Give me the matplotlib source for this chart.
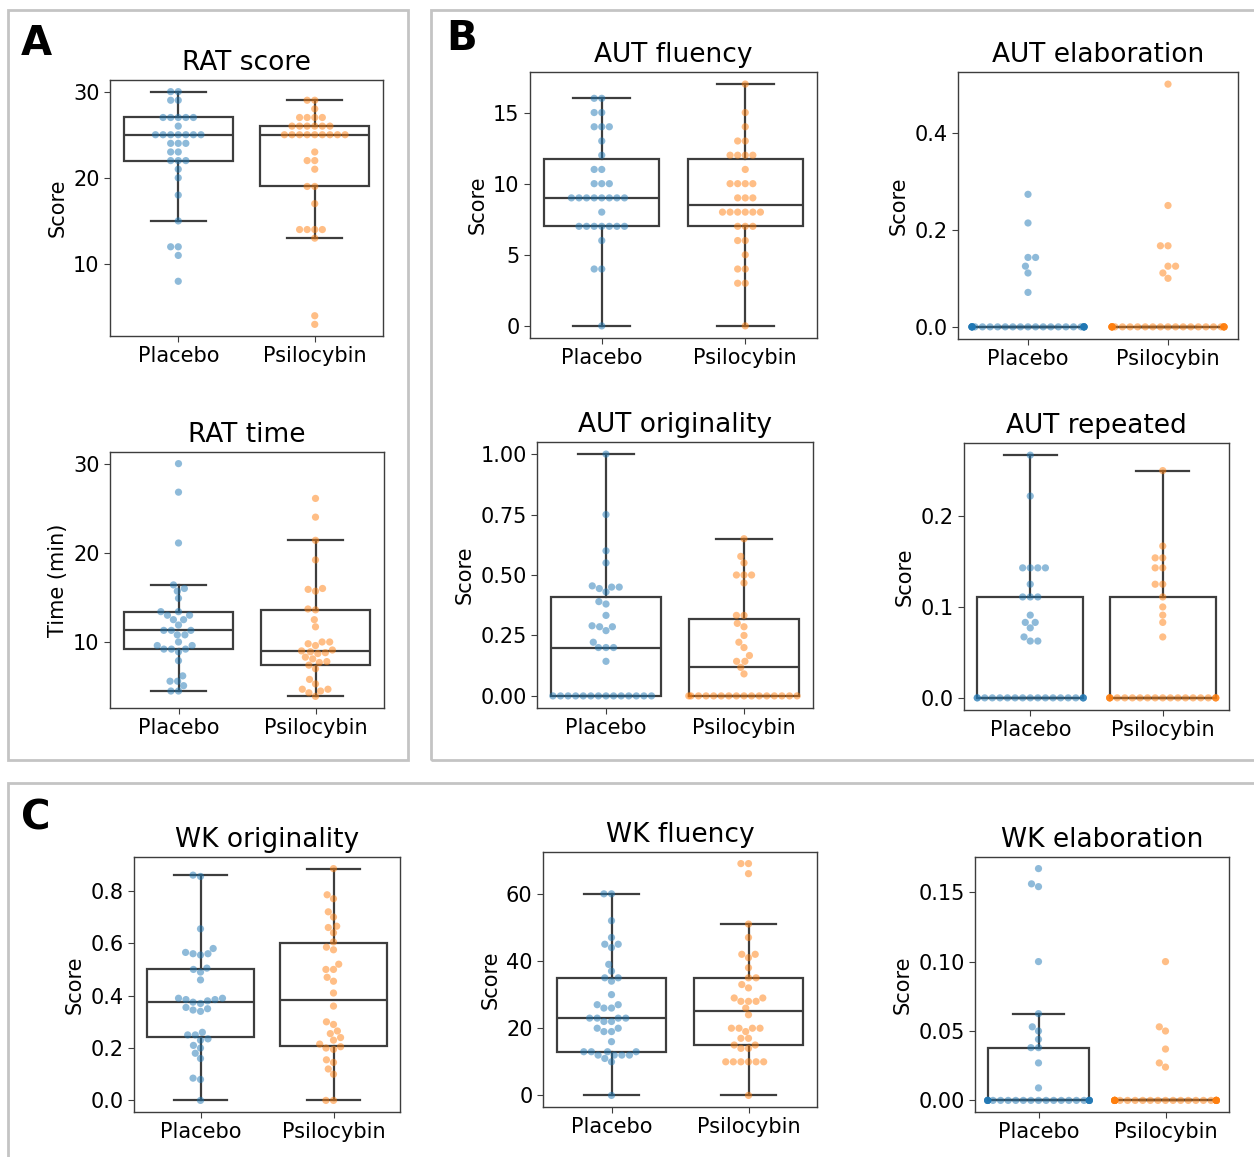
import warnings
warnings.filterwarnings("ignore")

import matplotlib
matplotlib.use('Agg')

import numpy as np
import pandas as pd
import matplotlib.pyplot as plt
import seaborn as sns
from matplotlib.patches import Rectangle


# ===============================
# Data
# ===============================

groups = ["Placebo", "Psilocybin"]
colors = ["#1f77b4", "#ff7f0e"]

rat_score_placebo = [30, 30, 29, 29, 27, 27, 27, 27, 27, 26, 25, 25, 25, 25, 25, 25, 25,
                     24, 24, 24, 23, 23, 22, 22, 22, 21, 20, 18, 15, 12, 12, 11, 8]
rat_score_psilocybin = [29, 29, 28, 27, 27, 27, 27, 26, 26, 26, 26, 26, 26, 25, 25, 25, 25,
                        25, 25, 25, 25, 25, 23, 22, 22, 21, 19, 19, 17, 14, 14, 14, 14, 13, 4, 3]

rat_time_placebo = [30.0, 26.8, 21.1, 16.4, 16.0, 15.7, 14.9, 13.4, 13.4, 13.0, 13.0, 12.5,
                    12.5, 11.9, 11.3, 11.3, 11.3, 10.8, 10.8, 10.0, 9.6, 9.6, 9.2, 9.2, 9.2,
                    8.9, 7.9, 6.2, 5.6, 5.6, 5.1, 4.5, 4.5]
rat_time_psilocybin = [26.1, 24.0, 21.4, 19.2, 16.0, 15.9, 15.7, 13.7, 13.6, 12.5, 11.7, 10.0,
                       10.0, 9.8, 9.6, 9.1, 9.0, 8.9, 8.8, 8.7, 8.3, 8.1, 7.8, 7.7, 7.4, 7.0,
                       5.8, 5.3, 4.7, 4.7, 4.5, 4.3, 3.9]

aut_fluency_placebo = [16, 16, 15, 15, 14, 14, 14, 13, 12, 11, 11, 10, 10, 10, 9, 9, 9, 9, 9,
                       9, 9, 9, 8, 7, 7, 7, 7, 7, 7, 7, 6, 4, 4, 0]
aut_fluency_psilocybin = [17, 15, 14, 13, 13, 12, 12, 12, 12, 11, 10, 10, 10, 10, 9, 9, 9, 8,
                          8, 8, 8, 8, 8, 7, 7, 7, 6, 6, 5, 4, 4, 3, 3, 0]

aut_elaboration_placebo = [0.273, 0.214, 0.143, 0.143, 0.125, 0.111, 0.071,
                           0, 0, 0, 0, 0, 0, 0, 0, 0, 0, 0, 0, 0, 0, 0, 0, 0, 0, 0, 0,
                           0, 0, 0, 0, 0, 0, 0]
aut_elaboration_psilocybin = [0.5, 0.25, 0.167, 0.167, 0.125, 0.125, 0.111, 0.1,
                              0, 0, 0, 0, 0, 0, 0, 0, 0, 0, 0, 0, 0, 0, 0, 0, 0, 0, 0, 0,
                              0, 0, 0, 0, 0, 0]

aut_originality_placebo = [1.0, 0.75, 0.6, 0.55, 0.455, 0.45, 0.45, 0.444, 0.43, 0.39, 0.38,
                           0.333, 0.29, 0.286, 0.286, 0.27, 0.222, 0.2, 0.2, 0.2, 0.143,
                           0, 0, 0, 0, 0, 0, 0, 0, 0, 0, 0, 0, 0, 0]
aut_originality_psilocybin = [0.65, 0.577, 0.55, 0.5, 0.5, 0.5, 0.467, 0.333, 0.333, 0.3,
                              0.286, 0.25, 0.222, 0.2, 0.167, 0.143, 0.143, 0.118, 0.091,
                              0, 0, 0, 0, 0, 0, 0, 0, 0, 0, 0, 0, 0, 0, 0, 0]

aut_repeated_placebo = [0.267, 0.222, 0.143, 0.143, 0.143, 0.143, 0.125, 0.111, 0.111, 0.111,
                        0.091, 0.083, 0.083, 0.077, 0.067, 0.0625, 0.0625,
                        0, 0, 0, 0, 0, 0, 0, 0, 0, 0, 0, 0, 0, 0, 0, 0, 0, 0]
aut_repeated_psilocybin = [0.25, 0.167, 0.154, 0.154, 0.143, 0.143, 0.125, 0.125, 0.111, 0.1,
                           0.091, 0.083, 0.067,
                           0, 0, 0, 0, 0, 0, 0, 0, 0, 0, 0, 0, 0, 0, 0, 0, 0, 0, 0, 0]

wk_originality_placebo = [0.86, 0.855, 0.655, 0.58, 0.565, 0.56, 0.56, 0.555, 0.505, 0.5,
                          0.49, 0.46, 0.39, 0.39, 0.385, 0.385, 0.38, 0.375, 0.37, 0.355,
                          0.35, 0.345, 0.34, 0.26, 0.25, 0.25, 0.235, 0.23, 0.21, 0.2,
                          0.18, 0.16, 0.085, 0.08, 0.0]
wk_originality_psilocybin = [0.885, 0.785, 0.77, 0.72, 0.7, 0.665, 0.66, 0.64, 0.605, 0.585,
                             0.575, 0.52, 0.5, 0.5, 0.47, 0.455, 0.41, 0.36, 0.3, 0.29,
                             0.265, 0.255, 0.24, 0.23, 0.215, 0.205, 0.2, 0.195, 0.155,
                             0.145, 0.12, 0.1, 0.0, 0.0]

wk_fluency_placebo = [60, 60, 52, 47, 45, 45, 44, 39, 37, 35, 35, 34, 30, 27, 27, 26, 26, 23,
                      23, 23, 23, 22, 22, 20, 20, 19, 19, 16, 13, 13, 13, 13, 12, 12, 12, 12,
                      11, 10, 0]
wk_fluency_psilocybin = [69, 69, 66, 51, 47, 42, 42, 41, 38, 35, 35, 33, 32, 29, 29, 28, 28,
                         28, 26, 24, 20, 20, 20, 20, 19, 17, 17, 15, 15, 14, 14, 10, 10, 10,
                         10, 10, 10, 0]

wk_elaboration_placebo = [0.167, 0.156, 0.154, 0.1, 0.0625, 0.053, 0.05, 0.044, 0.038, 0.038,
                          0.027, 0.009,
                          0, 0, 0, 0, 0, 0, 0, 0, 0, 0, 0, 0, 0, 0, 0, 0, 0, 0, 0, 0, 0, 0, 0]
wk_elaboration_psilocybin = [0.1, 0.053, 0.05, 0.037, 0.027, 0.024,
                             0, 0, 0, 0, 0, 0, 0, 0, 0, 0, 0, 0, 0, 0, 0, 0, 0, 0, 0, 0, 0,
                             0, 0, 0, 0, 0, 0, 0]


# ===============================
# Figure layout
# ===============================

W, H = 1254, 1157
fig = plt.figure(figsize=(W / 100, H / 100), dpi=100)


def add_ax(left, top, right, bottom):
    return fig.add_axes([left / W, 1 - bottom / H, (right - left) / W, (bottom - top) / H])


# (title, ylabel, placebo, psilocybin, yticks, tick format, axes box in px)
panels = [
    ("RAT score", "Score", rat_score_placebo, rat_score_psilocybin,
     [10, 20, 30], "{:.0f}", (110, 80, 383, 336)),
    ("RAT time", "Time (min)", rat_time_placebo, rat_time_psilocybin,
     [10, 20, 30], "{:.0f}", (110, 452, 384, 708)),
    ("AUT fluency", "Score", aut_fluency_placebo, aut_fluency_psilocybin,
     [0, 5, 10, 15], "{:.0f}", (530, 72, 817, 338)),
    ("AUT elaboration", "Score", aut_elaboration_placebo, aut_elaboration_psilocybin,
     [0.0, 0.2, 0.4], "{:.1f}", (958, 72, 1238, 339)),
    ("AUT originality", "Score", aut_originality_placebo, aut_originality_psilocybin,
     [0.0, 0.25, 0.5, 0.75, 1.0], "{:.2f}", (537, 442, 813, 708)),
    ("AUT repeated", "Score", aut_repeated_placebo, aut_repeated_psilocybin,
     [0.0, 0.1, 0.2], "{:.1f}", (964, 443, 1229, 710)),
    ("WK originality", "Score", wk_originality_placebo, wk_originality_psilocybin,
     [0.0, 0.2, 0.4, 0.6, 0.8], "{:.1f}", (134, 857, 400, 1112)),
    ("WK fluency", "Score", wk_fluency_placebo, wk_fluency_psilocybin,
     [0, 20, 40, 60], "{:.0f}", (543, 852, 817, 1107)),
    ("WK elaboration", "Score", wk_elaboration_placebo, wk_elaboration_psilocybin,
     [0.0, 0.05, 0.10, 0.15], "{:.2f}", (975, 857, 1229, 1112)),
]

line_col = "#3d3d3d"

for title, ylabel, plac, psil, yticks, fmt, box in panels:
    ax = add_ax(*box)
    df = pd.DataFrame({
        "group": ["Placebo"] * len(plac) + ["Psilocybin"] * len(psil),
        "value": list(plac) + list(psil),
    })

    ax.boxplot([plac, psil], positions=[0, 1], widths=0.8, showfliers=False,
               patch_artist=True, whis=1.5,
               boxprops=dict(facecolor="white", edgecolor=line_col, linewidth=1.6),
               whiskerprops=dict(color=line_col, linewidth=1.6),
               capprops=dict(color=line_col, linewidth=1.6),
               medianprops=dict(color=line_col, linewidth=1.6),
               zorder=1)

    sns.swarmplot(data=df, x="group", y="value", hue="group", order=groups,
                  hue_order=groups, palette=colors, alpha=0.5, size=5.2,
                  legend=False, ax=ax, zorder=2)

    ax.set_xlim(-0.5, 1.5)
    ax.set_xticks([0, 1])
    ax.set_xticklabels(groups)
    ax.set_yticks(yticks)
    ax.set_yticklabels([fmt.format(t) for t in yticks])
    ax.set_xlabel("")
    ax.set_ylabel(ylabel, fontsize=15)
    ax.set_title(title, fontsize=19, pad=7)
    ax.tick_params(labelsize=15, length=4, color=line_col)
    for sp in ax.spines.values():
        sp.set_color(line_col)
        sp.set_linewidth(1.0)


# ===============================
# Panel frames and letters
# ===============================

frame_col = "#c4c4c4"
for (x0, y0, x1, y1) in [(8, 10, 408, 760), (431, 10, 1270, 760), (8, 783, 1270, 1175)]:
    fig.add_artist(Rectangle((x0 / W, 1 - y1 / H), (x1 - x0) / W, (y1 - y0) / H,
                             transform=fig.transFigure, fill=False,
                             edgecolor=frame_col, linewidth=2.0))

for letter, x, y in [("A", 21, 55), ("B", 446, 50), ("C", 21, 830)]:
    fig.text(x / W, 1 - y / H, letter, fontsize=29, fontweight="bold", va="baseline")

fig.savefig("out.png", dpi=100)
